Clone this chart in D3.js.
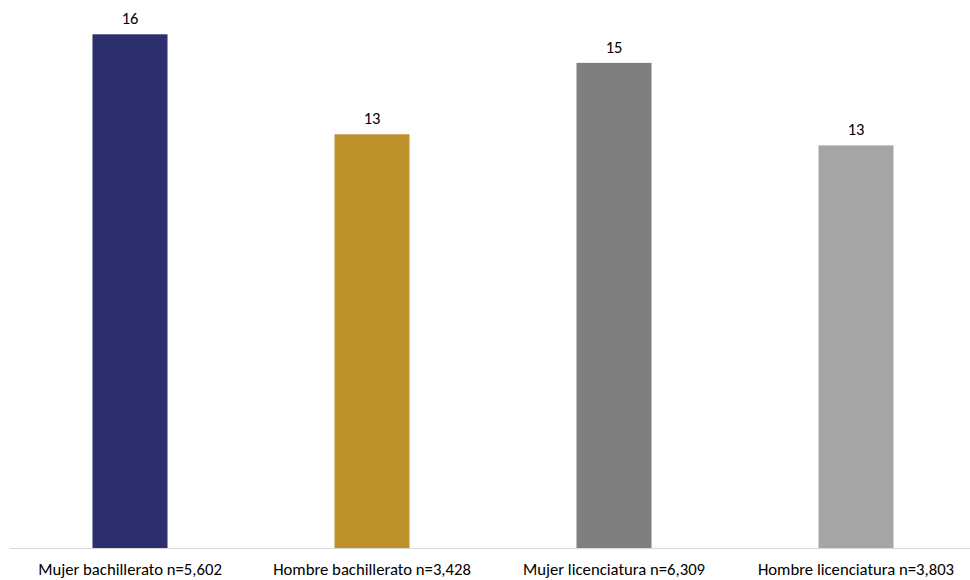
<!DOCTYPE html>
<html>
<head>
<meta charset="utf-8">
<script src="https://cdn.jsdelivr.net/npm/d3@7"></script>
<style>
  html, body { margin: 0; padding: 0; background: #fff; }
  svg { display: block; }
  text { font-family: Carlito, Calibri, Lato, "Liberation Sans", "Noto Sans", sans-serif; fill: #000; }
</style>
</head>
<body>
<svg id="chart" width="970" height="580"></svg>
<script>
const categories = ["Mujer bachillerato n=5,602", "Hombre bachillerato n=3,428", "Mujer licenciatura n=6,309", "Hombre licenciatura n=3,803"];
const values = [16.2, 13.05, 15.3, 12.7];
const valueLabels = ["16", "13", "15", "13"];
const colors = ["#2d2e6c", "#bd922b", "#7f7f7f", "#a5a5a5"];

const svg = d3.select("#chart");
const baseY = 548.5;

const x = d3.scaleBand().domain(categories).range([9, 977]).paddingInner(0.69).paddingOuter(0.345);
const y = d3.scaleLinear().domain([0, d3.max(values)]).range([baseY, 34.3]);

const data = categories.map((c, i) => ({ c, v: values[i], l: valueLabels[i], col: colors[i] }));

svg.selectAll("rect.bar").data(data).join("rect")
  .attr("class", "bar")
  .attr("x", d => x(d.c))
  .attr("width", x.bandwidth())
  .attr("y", d => y(d.v))
  .attr("height", d => y(0) - y(d.v))
  .attr("fill", d => d.col);

svg.selectAll("text.val").data(data).join("text")
  .attr("class", "val")
  .attr("x", d => x(d.c) + x.bandwidth() / 2)
  .attr("y", d => y(d.v) - 10)
  .attr("text-anchor", "middle")
  .style("font-size", "16.5px")
  .text(d => d.l);

// baseline axis
const xAxis = d3.axisBottom(x).tickSize(0).tickPadding(15);
const gx = svg.append("g").attr("transform", `translate(0,${baseY})`).call(xAxis);
gx.select(".domain").attr("d", "M10,0H970").attr("stroke", "#d9d9d9").attr("stroke-width", 1);
gx.selectAll(".tick text")
  .style("font-size", "16.7px")
  .style("font-family", "Carlito, Calibri, Lato, 'Liberation Sans', 'Noto Sans', sans-serif")
  .attr("fill", "#000");
</script>
</body>
</html>
